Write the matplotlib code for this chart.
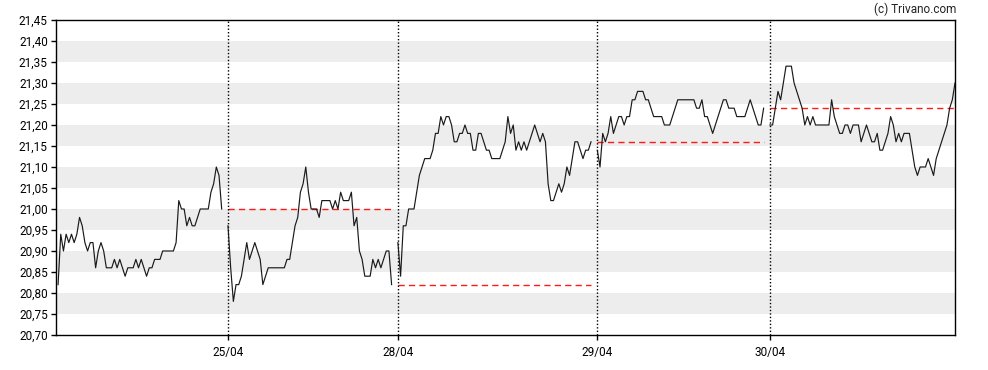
import matplotlib
matplotlib.use('Agg')
import matplotlib.pyplot as plt
from matplotlib.ticker import MultipleLocator, FuncFormatter

plt.rcParams['font.family'] = ['Roboto', 'DejaVu Sans']

# ---- data: intraday prices per trading day
day_labels = ['24/04', '25/04', '28/04', '29/04', '30/04']

day1 = [20.82, 20.94, 20.90, 20.94, 20.92, 20.94, 20.92, 20.94, 20.98, 20.96,
        20.92, 20.90, 20.92, 20.92, 20.86, 20.90, 20.92, 20.90, 20.86, 20.86,
        20.86, 20.88, 20.86, 20.88, 20.86, 20.84, 20.86, 20.86, 20.86, 20.88,
        20.86, 20.88, 20.86, 20.84, 20.86, 20.86, 20.88, 20.88, 20.88, 20.90,
        20.90, 20.90, 20.90, 20.90, 20.92, 21.02, 21.00, 21.00, 20.96, 20.98,
        20.96, 20.96, 20.98, 21.00, 21.00, 21.00, 21.00, 21.04, 21.06, 21.10,
        21.08, 21.00]

day2 = [20.96, 20.86, 20.78, 20.82, 20.82, 20.84, 20.88, 20.92, 20.88, 20.90,
        20.92, 20.90, 20.88, 20.82, 20.84, 20.86, 20.86, 20.86, 20.86, 20.86,
        20.86, 20.86, 20.88, 20.88, 20.92, 20.96, 20.98, 21.04, 21.06, 21.10,
        21.04, 21.00, 21.00, 21.00, 20.98, 21.02, 21.02, 21.02, 21.02, 21.00,
        21.02, 21.00, 21.04, 21.02, 21.02, 21.02, 21.04, 20.96, 20.98, 20.90,
        20.88, 20.84, 20.84, 20.84, 20.88, 20.86, 20.88, 20.86, 20.88, 20.90,
        20.90, 20.82]

day3 = [20.92, 20.84, 20.96, 20.96, 21.00, 21.00, 21.00, 21.04, 21.08, 21.10,
        21.12, 21.12, 21.12, 21.14, 21.18, 21.18, 21.22, 21.20, 21.22, 21.22,
        21.20, 21.16, 21.16, 21.18, 21.18, 21.20, 21.18, 21.18, 21.14, 21.14,
        21.18, 21.18, 21.16, 21.14, 21.14, 21.12, 21.12, 21.12, 21.12, 21.14,
        21.16, 21.22, 21.18, 21.20, 21.14, 21.16, 21.14, 21.16, 21.14, 21.16,
        21.18, 21.20, 21.18, 21.16, 21.18, 21.16, 21.06, 21.02, 21.02, 21.04,
        21.06, 21.04, 21.06, 21.10, 21.08, 21.12, 21.16, 21.16, 21.14, 21.12,
        21.14, 21.14, 21.16]

day4 = [21.14, 21.10, 21.18, 21.16, 21.18, 21.22, 21.18, 21.20, 21.22, 21.22,
        21.20, 21.22, 21.22, 21.26, 21.26, 21.28, 21.28, 21.28, 21.26, 21.26,
        21.24, 21.22, 21.22, 21.22, 21.22, 21.20, 21.20, 21.20, 21.22, 21.24,
        21.26, 21.26, 21.26, 21.26, 21.26, 21.26, 21.26, 21.24, 21.24, 21.26,
        21.22, 21.22, 21.20, 21.18, 21.20, 21.22, 21.24, 21.26, 21.26, 21.24,
        21.24, 21.24, 21.22, 21.22, 21.22, 21.22, 21.24, 21.26, 21.24, 21.22,
        21.20, 21.20, 21.24]

day5 = [21.20, 21.20, 21.24, 21.28, 21.26, 21.30, 21.34, 21.34, 21.34, 21.30,
        21.28, 21.26, 21.24, 21.20, 21.22, 21.20, 21.22, 21.20, 21.20, 21.20,
        21.20, 21.20, 21.20, 21.26, 21.22, 21.20, 21.18, 21.18, 21.20, 21.20,
        21.18, 21.20, 21.20, 21.20, 21.16, 21.18, 21.20, 21.18, 21.16, 21.16,
        21.18, 21.14, 21.14, 21.16, 21.18, 21.22, 21.20, 21.16, 21.18, 21.16,
        21.18, 21.18, 21.18, 21.14, 21.10, 21.08, 21.10, 21.10, 21.10, 21.12,
        21.10, 21.08, 21.12, 21.14, 21.16, 21.18, 21.20, 21.24, 21.26, 21.30]

days = [day1, day2, day3, day4, day5]

# ---- figure
fig = plt.figure(figsize=(9.88, 3.70), dpi=100)
ax = fig.add_axes([0.0562, 0.0946, 0.9104, 0.8514])

# alternating grey bands
for k in range(7):
    lo = 20.75 + 0.10 * k
    ax.axhspan(lo, lo + 0.05, color='#ededed', lw=0, zorder=0)

gap = 2.35
start = 0.0
starts = []
for i, d in enumerate(days):
    xs = [start + j for j in range(len(d))]
    starts.append(start)
    ax.plot(xs, d, color='#1a1a1a', linewidth=0.85, zorder=3)
    if i > 0:
        # previous close reference line
        ax.plot([xs[0], xs[-1]], [days[i - 1][-1], days[i - 1][-1]],
                color='#ff1a1a', linewidth=1, dashes=(4.5, 3), zorder=2)
        ax.axvline(x=xs[0], color='black', linewidth=1, linestyle=(0, (1, 1.5)), zorder=2)
    last_x = xs[-1]
    start = xs[-1] + gap

ax.set_xlim(-0.95, last_x)
ax.set_ylim(20.70, 21.45)
ax.yaxis.set_major_locator(MultipleLocator(0.05))
ax.yaxis.set_major_formatter(FuncFormatter(lambda v, p: ('%.2f' % v).replace('.', ',')))
ax.set_xticks(starts[1:])
ax.set_xticklabels(day_labels[1:])

ax.tick_params(axis='both', labelsize=8.5, length=3.6, width=1, color='black', labelcolor='black')
ax.tick_params(axis='y', pad=2)
ax.tick_params(axis='x', pad=4)
for s in ax.spines.values():
    s.set_linewidth(1)
    s.set_color('black')

fig.text(0.968, 0.992, '(c) Trivano.com', ha='right', va='top', fontsize=8.5, color='#222222')

plt.savefig('out.png', dpi=100)
